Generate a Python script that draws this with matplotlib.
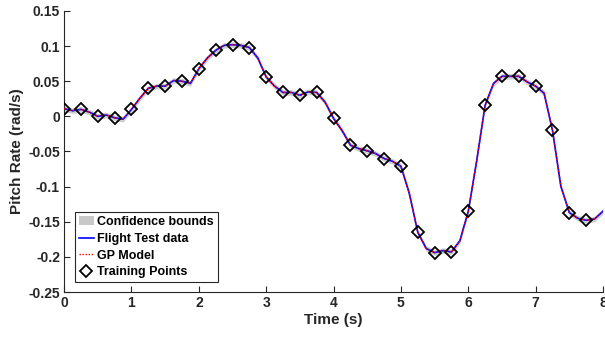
#! /usr/bin/python3
# -*- coding: utf-8 -*-

"""
Pitch rate: flight test data against GP model with training points
"""
import matplotlib
matplotlib.use("Agg")
import matplotlib.pyplot as plt
from matplotlib.patches import Patch
from matplotlib.lines import Line2D
import numpy as np

# flight test data sampled every 0.125 s
time_s = np.arange(0, 65) * 0.125
flight_data = [0.011, 0.008, 0.010, 0.006, 0.000, 0.002, -0.002, -0.004,
               0.010, 0.026, 0.040, 0.043, 0.043, 0.051, 0.050, 0.047,
               0.068, 0.083, 0.094, 0.101, 0.102, 0.101, 0.098, 0.083,
               0.056, 0.043, 0.034, 0.034, 0.030, 0.035, 0.034, 0.020,
               -0.003, -0.020, -0.041, -0.046, -0.049, -0.053, -0.060, -0.064,
               -0.071, -0.110, -0.165, -0.188, -0.194, -0.191, -0.193, -0.177,
               -0.135, -0.063, 0.016, 0.047, 0.057, 0.057, 0.057, 0.049,
               0.043, 0.033, -0.020, -0.100, -0.137, -0.145, -0.148, -0.146,
               -0.135]
gp_model = flight_data
conf_halfwidth = 0.004

# training points every 0.25 s
train_t = np.arange(0, 32) * 0.25
train_y = [0.011, 0.010, 0.000, -0.002, 0.010, 0.040, 0.043, 0.050,
           0.068, 0.094, 0.102, 0.097, 0.056, 0.034, 0.030, 0.034,
           -0.003, -0.041, -0.049, -0.060, -0.071, -0.165, -0.194, -0.193,
           -0.135, 0.016, 0.057, 0.057, 0.043, -0.020, -0.137, -0.148]

x_ticks = [0, 1, 2, 3, 4, 5, 6, 7, 8]
y_ticks = [-0.25, -0.2, -0.15, -0.1, -0.05, 0, 0.05, 0.1, 0.15]
y_tick_labels = ["-0.25", "-0.2", "-0.15", "-0.1", "-0.05", "0", "0.05", "0.1", "0.15"]


def main():
    plt.rcParams['font.family'] = ['Liberation Sans', 'DejaVu Sans']
    plt.rcParams['font.weight'] = 'bold'
    text_color = '#262626'

    fig = plt.figure(figsize=(6.05, 3.39), dpi=100)
    ax = fig.add_axes([0.106, 0.1386, 0.8907, 0.829])

    gp = np.array(gp_model)
    ax.fill_between(time_s, gp - conf_halfwidth, gp + conf_halfwidth,
                    color='#d0d0d0', linewidth=0, zorder=1)
    ax.plot(time_s, flight_data, color='blue', linewidth=1.2, zorder=2)
    ax.plot(time_s, gp_model, color='red', linewidth=1.0, linestyle=(0, (1, 1.2)), zorder=3)
    ax.plot(train_t, train_y, linestyle='none', marker='D', markersize=6,
            markerfacecolor='none', markeredgecolor='black', markeredgewidth=1.3, zorder=4)

    ax.set_xlim(0, 8)
    ax.set_ylim(-0.25, 0.15)
    ax.set_xticks(x_ticks)
    ax.set_yticks(y_ticks)
    ax.set_yticklabels(y_tick_labels)
    ax.tick_params(direction='in', length=4, width=0.8, labelsize=10,
                   colors=text_color, pad=3)
    for lbl in ax.get_xticklabels() + ax.get_yticklabels():
        lbl.set_fontweight('bold')
    ax.spines['top'].set_visible(False)
    ax.spines['right'].set_visible(False)
    ax.spines['left'].set_color(text_color)
    ax.spines['bottom'].set_color(text_color)

    ax.set_xlabel('Time (s)', fontsize=11, fontweight='bold', color=text_color, labelpad=2)
    ax.set_ylabel('Pitch Rate (rad/s)', fontsize=11, fontweight='bold', color=text_color, labelpad=3)

    handles = [Patch(facecolor='#c8c8c8', edgecolor='none'),
               Line2D([], [], color='blue', linewidth=1.2),
               Line2D([], [], color='red', linewidth=1.0, linestyle=(0, (1, 1.2))),
               Line2D([], [], linestyle='none', marker='D', markersize=6,
                      markerfacecolor='none', markeredgecolor='black', markeredgewidth=1.3)]
    labels = ['Confidence bounds', 'Flight Test data', 'GP Model', 'Training Points']
    leg = ax.legend(handles, labels, loc='lower left', bbox_to_anchor=(0.02, 0.035),
                    prop={'size': 9, 'weight': 'bold'}, fancybox=False, framealpha=1,
                    handlelength=1.2, handletextpad=0.3, labelspacing=0.38,
                    borderpad=0.3, borderaxespad=0)
    leg.get_frame().set_edgecolor('#262626')
    leg.get_frame().set_linewidth(0.8)

    fig.savefig('out.png', dpi=100)


if __name__ == "__main__":
    main()
